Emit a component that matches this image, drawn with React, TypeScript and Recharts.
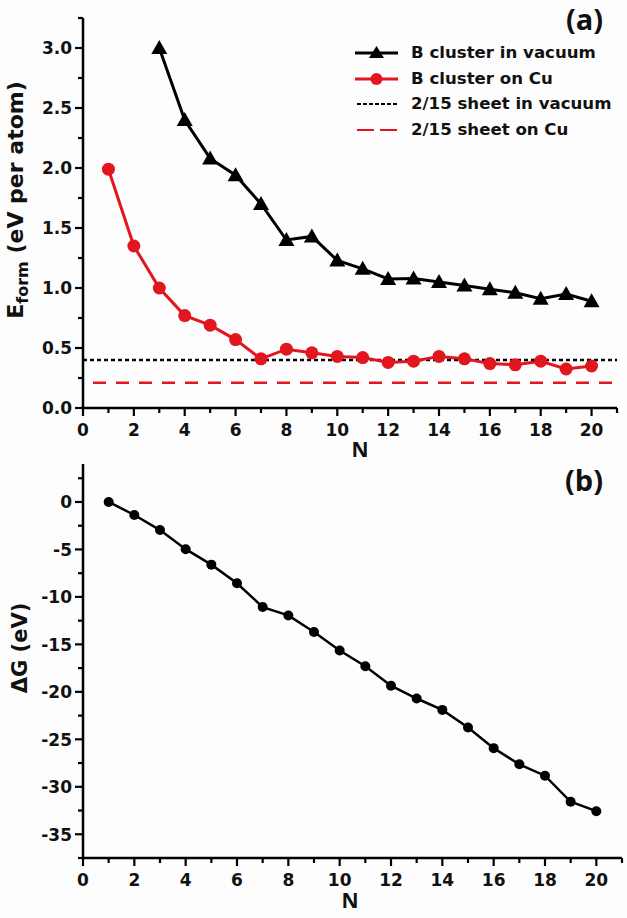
import React from 'react';
import { LineChart, Line, XAxis, YAxis, ReferenceLine, Legend } from 'recharts';

// ---------- data ----------
const N_VALUES = [1, 2, 3, 4, 5, 6, 7, 8, 9, 10, 11, 12, 13, 14, 15, 16, 17, 18, 19, 20];
const E_VACUUM: (number | null)[] = [null, null, 3.0, 2.4, 2.08, 1.94, 1.7, 1.4, 1.43, 1.23, 1.16, 1.075, 1.08, 1.05, 1.02, 0.99, 0.96, 0.91, 0.95, 0.89];
const E_CU = [1.99, 1.35, 1.0, 0.77, 0.69, 0.57, 0.41, 0.49, 0.46, 0.43, 0.42, 0.38, 0.39, 0.43, 0.41, 0.37, 0.36, 0.39, 0.325, 0.35];
const SHEET_VACUUM = 0.4;
const SHEET_CU = 0.21;
const DELTA_G = [0, -1.37, -2.96, -4.97, -6.6, -8.56, -11.07, -11.95, -13.7, -15.65, -17.3, -19.35, -20.7, -21.9, -23.75, -25.93, -27.63, -28.83, -31.58, -32.57];

const X_TICKS = [0, 1, 2, 3, 4, 5, 6, 7, 8, 9, 10, 11, 12, 13, 14, 15, 16, 17, 18, 19, 20, 21];
const YA_TICKS = [0, 0.25, 0.5, 0.75, 1.0, 1.25, 1.5, 1.75, 2.0, 2.25, 2.5, 2.75, 3.0, 3.25];
const YB_TICKS = [-37.5, -35, -32.5, -30, -27.5, -25, -22.5, -20, -17.5, -15, -12.5, -10, -7.5, -5, -2.5, 0, 2.5];

const LEGEND_ITEMS = [
  { label: 'B cluster in vacuum', kind: 'triangle' },
  { label: 'B cluster on Cu', kind: 'circle' },
  { label: '2/15 sheet in vacuum', kind: 'dotted' },
  { label: '2/15 sheet on Cu', kind: 'dashed' },
];

// ---------- styles ----------
const RED = '#e2161e';
const TICK_FONT = "'DejaVu Sans', sans-serif";
const TITLE_FONT = "'Open Sans', sans-serif";

const dataA = N_VALUES.map((n, i) => ({ n, vac: E_VACUUM[i], cu: E_CU[i] }));
const dataB = N_VALUES.map((n, i) => ({ n, g: DELTA_G[i] }));

function isMajor(v: number, step: number) {
  return Math.abs(v / step - Math.round(v / step)) < 1e-6;
}

function makeTick(orient: 'left' | 'bottom', step: number, fmt: (v: number) => string) {
  return (props: any) => {
    const { x, y, payload } = props;
    const v = payload.value as number;
    const major = isMajor(v, step);
    const len = major ? 8 : 5;
    if (orient === 'left') {
      return (
        <g>
          <line x1={x} x2={x - len} y1={y} y2={y} stroke="#000" strokeWidth={2.2} />
          {major && (
            <text x={x - 11} y={y + 6.3} textAnchor="end" fontFamily={TICK_FONT} fontWeight="bold" fontSize={17} fill="#111">
              {fmt(v)}
            </text>
          )}
        </g>
      );
    }
    return (
      <g>
        <line x1={x} x2={x} y1={y} y2={y + len} stroke="#000" strokeWidth={2.2} />
        {major && (
          <text x={x} y={y + 27.5} textAnchor="middle" fontFamily={TICK_FONT} fontWeight="bold" fontSize={17} fill="#111">
            {fmt(v)}
          </text>
        )}
      </g>
    );
  };
}

const xTick = makeTick('bottom', 2, (v) => String(v));
const yTickA = makeTick('left', 0.5, (v) => v.toFixed(1));
const yTickB = makeTick('left', 5, (v) => String(v));

const Triangle = (props: any) => {
  const { cx, cy, key } = props;
  if (cx == null || cy == null || props.value == null) return <g key={key} />;
  return <polygon key={key} points={`${cx},${cy - 8} ${cx - 8},${cy + 6} ${cx + 8},${cy + 6}`} fill="#000" />;
};

const renderLegend = () => (
  <div style={{ fontFamily: TICK_FONT, fontWeight: 'bold', fontSize: 16.6, color: '#111' }}>
    {LEGEND_ITEMS.map((it) => (
      <div key={it.label} style={{ display: 'flex', alignItems: 'center', height: 25.7 }}>
        <svg width={61} height={26} style={{ display: 'block' }}>
          {it.kind === 'triangle' && (
            <g>
              <line x1={5} x2={48} y1={13} y2={13} stroke="#000" strokeWidth={3} />
              <polygon points="26.5,6 19,18 34,18" fill="#000" />
            </g>
          )}
          {it.kind === 'circle' && (
            <g>
              <line x1={5} x2={48} y1={13} y2={13} stroke={RED} strokeWidth={3} />
              <circle cx={26.5} cy={13} r={6} fill={RED} />
            </g>
          )}
          {it.kind === 'dotted' && <line x1={7} x2={48} y1={13} y2={13} stroke="#000" strokeWidth={2} strokeDasharray="4 2" />}
          {it.kind === 'dashed' && <line x1={7} x2={48} y1={13} y2={13} stroke={RED} strokeWidth={2} strokeDasharray="17 6" />}
        </svg>
        <span style={{ whiteSpace: 'nowrap', lineHeight: '26px' }}>{it.label}</span>
      </div>
    ))}
  </div>
);

const labelA = () => (
  <text transform="rotate(-90 23 200)" x={23} y={200} textAnchor="middle" fontFamily={TICK_FONT} fontWeight="bold" fontSize={22} fill="#111">
    <tspan>E</tspan>
    <tspan fontSize={16} dy={5}>form</tspan>
    <tspan dy={-5}> (eV per atom)</tspan>
  </text>
);

const labelB = () => (
  <text transform={`rotate(-90 27 ${648 - 462})`} x={27} y={648 - 462} textAnchor="middle" fontFamily={TICK_FONT} fontWeight="bold" fontSize={21} fill="#111">
    ΔG (eV)
  </text>
);

const nLabelA = () => (
  <text x={360} y={457} textAnchor="middle" fontFamily={TITLE_FONT} fontWeight="bold" fontSize={21} fill="#111">
    N
  </text>
);

const nLabelB = () => (
  <text x={350} y={908 - 462} textAnchor="middle" fontFamily={TITLE_FONT} fontWeight="bold" fontSize={21} fill="#111">
    N
  </text>
);

const axisLine = { stroke: '#000', strokeWidth: 2.5 };

export default function App() {
  return (
    <div style={{ position: 'absolute', left: 0, top: 0, width: 627, height: 918, background: '#fdfdfd', overflow: 'hidden' }}>
      <div style={{ position: 'absolute', left: 0, top: 0 }}>
        <LineChart width={627} height={464} data={dataA} margin={{ top: 18, right: 10, bottom: 6, left: 0 }}>
          <XAxis
            dataKey="n"
            type="number"
            domain={[0, 21]}
            ticks={X_TICKS}
            interval={0}
            tickSize={0}
            tickMargin={0}
            tickLine={false}
            tick={xTick}
            axisLine={axisLine}
            height={50}
            label={nLabelA}
            allowDataOverflow
          />
          <YAxis
            type="number"
            domain={[0, 3.25]}
            ticks={YA_TICKS}
            interval={0}
            tickSize={0}
            tickMargin={0}
            tickLine={false}
            tick={yTickA}
            axisLine={axisLine}
            width={83}
            label={labelA}
            allowDataOverflow
          />
          <ReferenceLine y={SHEET_VACUUM} stroke="#000" strokeWidth={2.5} strokeDasharray="4 3" />
          <ReferenceLine y={SHEET_CU} stroke={RED} strokeWidth={2.5} strokeDasharray="13 10" strokeDashoffset={-10} />
          <Line dataKey="vac" type="linear" stroke="#000" strokeWidth={3} dot={Triangle} activeDot={false} isAnimationActive={false} />
          <Line dataKey="cu" type="linear" stroke={RED} strokeWidth={3} dot={{ r: 6.5, fill: RED, stroke: RED, strokeWidth: 0 }} activeDot={false} isAnimationActive={false} />
          <Legend
            content={renderLegend}
            layout="horizontal"
            verticalAlign="middle"
            align="center"
            wrapperStyle={{ left: 350, top: 40, width: 270, bottom: 'auto', right: 'auto' }}
          />
        </LineChart>
      </div>
      <div style={{ position: 'absolute', left: 0, top: 462 }}>
        <LineChart width={627} height={456} data={dataB} margin={{ top: 2, right: 5, bottom: 4, left: 0 }}>
          <XAxis
            dataKey="n"
            type="number"
            domain={[0, 21]}
            ticks={X_TICKS}
            interval={0}
            tickSize={0}
            tickMargin={0}
            tickLine={false}
            tick={xTick}
            axisLine={axisLine}
            height={56}
            label={nLabelB}
            allowDataOverflow
          />
          <YAxis
            type="number"
            domain={[-37.5, 4]}
            ticks={YB_TICKS}
            interval={0}
            tickSize={0}
            tickMargin={0}
            tickLine={false}
            tick={yTickB}
            axisLine={axisLine}
            width={83}
            label={labelB}
            allowDataOverflow
          />
          <Line dataKey="g" type="linear" stroke="#000" strokeWidth={2.5} dot={{ r: 5, fill: '#000', stroke: '#000', strokeWidth: 0 }} activeDot={false} isAnimationActive={false} />
        </LineChart>
      </div>
      <div style={{ position: 'absolute', left: 566, top: -6, fontFamily: TITLE_FONT, fontWeight: 700, fontSize: 29, color: '#111', lineHeight: '50px' }}>(a)</div>
      <div style={{ position: 'absolute', left: 565, top: 455, fontFamily: TITLE_FONT, fontWeight: 700, fontSize: 29, color: '#111', lineHeight: '50px' }}>(b)</div>
    </div>
  );
}
